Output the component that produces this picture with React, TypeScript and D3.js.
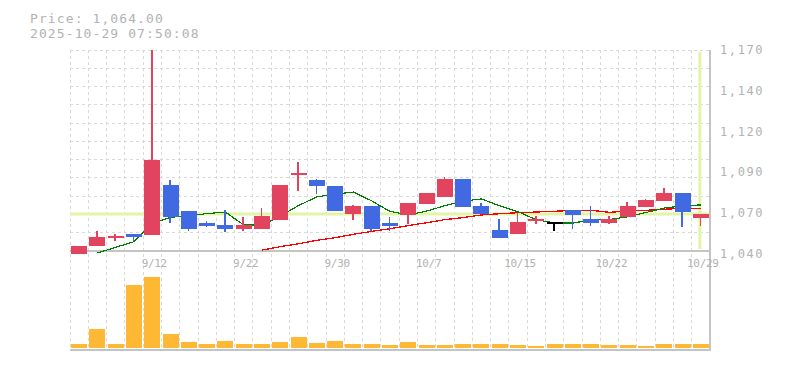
import React, { useEffect, useRef } from "react";
import * as d3 from "d3";

// trading days shown on the chart
const dates = [
  "9/8", "9/9", "9/10", "9/11", "9/12", "9/16", "9/17", "9/18", "9/19", "9/22",
  "9/24", "9/25", "9/26", "9/29", "9/30", "10/1", "10/2", "10/3", "10/6", "10/7",
  "10/8", "10/9", "10/10", "10/14", "10/15", "10/16", "10/17", "10/20", "10/21", "10/22",
  "10/23", "10/24", "10/27", "10/28", "10/29",
];

// OHLC
const opens = [
  1038.2, 1043.4, 1048.4, 1051.0, 1050.3, 1082.9, 1065.9, 1058.3, 1056.8, 1054.2,
  1054.2, 1060.0, 1089.4, 1085.9, 1082.0, 1064.1, 1069.1, 1058.3, 1063.5, 1070.6,
  1075.1, 1086.6, 1069.1, 1053.6, 1051.2, 1059.6, 1058.8, 1066.3, 1060.7, 1058.3,
  1062.2, 1068.7, 1072.5, 1077.7, 1061.4,
];
const highs = [
  1043.2, 1052.9, 1051.0, 1051.0, 1170.0, 1085.9, 1065.9, 1059.2, 1066.5, 1062.2,
  1067.8, 1082.9, 1097.6, 1086.8, 1082.0, 1069.8, 1069.1, 1062.2, 1071.2, 1077.7,
  1088.1, 1086.6, 1071.2, 1060.7, 1064.4, 1062.6, 1058.8, 1066.3, 1069.1, 1062.6,
  1071.7, 1073.8, 1081.0, 1077.7, 1064.0,
];
const lows = [
  1038.2, 1043.4, 1046.5, 1046.7, 1050.3, 1058.3, 1053.1, 1055.7, 1052.3, 1053.1,
  1054.2, 1060.0, 1079.0, 1076.9, 1065.9, 1060.0, 1053.1, 1053.1, 1057.5, 1070.6,
  1075.1, 1068.7, 1064.1, 1048.6, 1051.2, 1057.7, 1053.1, 1054.5, 1056.4, 1057.7,
  1062.2, 1068.5, 1072.5, 1055.7, 1056.4,
];
const closes = [
  1043.2, 1048.9, 1049.7, 1049.1, 1098.9, 1062.2, 1054.2, 1056.4, 1054.2, 1056.8,
  1062.6, 1082.9, 1090.5, 1082.2, 1065.9, 1069.1, 1054.4, 1056.4, 1071.2, 1077.7,
  1086.8, 1068.7, 1064.1, 1048.6, 1058.8, 1060.7, 1058.8, 1063.4, 1058.3, 1060.7,
  1069.1, 1073.0, 1077.7, 1065.4, 1064.0,
];

// volume (thousand shares)
const volumes = [
  40, 190, 40, 630, 710, 140, 60, 40, 70, 40,
  40, 60, 110, 50, 70, 40, 40, 30, 60, 30,
  30, 40, 40, 40, 30, 20, 40, 40, 40, 30,
  30, 20, 40, 40, 40,
];

// moving averages (green short, red long)
const maShort = [
  null, 1038.7, 1042.4, 1046.0, 1058.0, 1061.8, 1062.8, 1064.2, 1065.2, 1056.8,
  1056.8, 1062.6, 1069.4, 1075.0, 1076.8, 1078.1, 1072.4, 1065.6, 1063.4, 1065.8,
  1069.3, 1072.2, 1073.7, 1069.2, 1065.4, 1060.2, 1058.2, 1058.1, 1060.0, 1060.4,
  1062.1, 1064.9, 1067.8, 1069.2, 1069.8,
];
const maLong = [
  null, null, null, null, null, null, null, null, null, null,
  1040.6, 1042.8, 1044.7, 1046.9, 1048.6, 1050.8, 1052.7, 1054.4, 1056.4, 1058.3,
  1060.3, 1061.6, 1063.3, 1064.1, 1064.8, 1065.2, 1065.7, 1066.3, 1066.3, 1065.0,
  1065.9, 1066.3, 1067.0, 1067.6, 1067.6,
];

const xTickLabels = ["9/12", "9/22", "9/30", "10/7", "10/15", "10/22", "10/29"];
const yTickValues = [1040, 1066, 1092, 1118, 1144, 1170];
const yTickLabels = ["1,040", "1,070", "1,090", "1,120", "1,140", "1,170"];
const lastPrice = 1064;
const headerLines = ["Price: 1,064.00", "2025-10-29 07:50:08"];

const UP = "#e2435e";
const DOWN = "#4169e1";
const GRID = "#d9d9d9";
const AXIS = "#c4c4c4";
const TEXT = "#b2b2b2";
const MONO = "'DejaVu Sans Mono', 'Liberation Mono', monospace";

function StockChart() {
  const ref = useRef<SVGSVGElement | null>(null);

  useEffect(() => {
    const svg = d3.select(ref.current);
    svg.selectAll("*").remove();

    const left = 70, right = 710;
    const top = 50, bottom = 251;
    const volTop = 268, volBottom = 348;

    const x = d3.scaleBand().domain(dates).range([left, right]).padding(0);
    const y = d3.scaleLinear().domain([1040, 1170]).range([bottom, top]);
    const yVol = d3.scaleLinear().domain([0, 800]).range([volBottom, volTop]);
    const gridY = d3.scaleLinear().domain([0, 11]).range([bottom, top]);
    const bw = x.bandwidth() * 0.875;
    const cx = (d: string) => (x(d) as number) + x.bandwidth() / 2;

    // header
    svg.append("g")
      .selectAll("text")
      .data(headerLines)
      .enter()
      .append("text")
      .attr("x", 30)
      .attr("y", (d, i) => 22.5 + i * 15)
      .attr("fill", TEXT)
      .style("font-family", MONO)
      .style("font-size", "13px")
      .style("letter-spacing", "1.1px")
      .text((d) => d);

    // grid
    const grid = svg.append("g")
      .attr("stroke", GRID)
      .attr("stroke-dasharray", "3,3")
      .attr("shape-rendering", "crispEdges");
    grid.selectAll("line.h")
      .data(d3.range(1, 12))
      .enter()
      .append("line")
      .attr("x1", left)
      .attr("x2", right)
      .attr("y1", (d) => gridY(d))
      .attr("y2", (d) => gridY(d));
    grid.selectAll("line.v")
      .data(dates)
      .enter()
      .append("line")
      .attr("x1", (d) => x(d) as number)
      .attr("x2", (d) => x(d) as number)
      .attr("y1", top)
      .attr("y2", volBottom + 2);

    // current price markers
    svg.append("line")
      .attr("x1", left).attr("x2", right)
      .attr("y1", y(lastPrice)).attr("y2", y(lastPrice))
      .attr("stroke", "#e4f4a6").attr("stroke-width", 3);
    svg.append("line")
      .attr("x1", cx(dates[dates.length - 1]) - 1)
      .attr("x2", cx(dates[dates.length - 1]) - 1)
      .attr("y1", top + 2).attr("y2", bottom - 2)
      .attr("stroke", "#e4f4a6").attr("stroke-width", 3);

    // axes frame
    const frame = svg.append("g").attr("stroke", AXIS).attr("shape-rendering", "crispEdges");
    frame.append("line").attr("x1", left).attr("x2", right).attr("y1", bottom).attr("y2", bottom).attr("stroke-width", 1.5);
    frame.append("line").attr("x1", left).attr("x2", right).attr("y1", volBottom + 2).attr("y2", volBottom + 2).attr("stroke-width", 2);
    frame.append("line").attr("x1", right).attr("x2", right).attr("y1", top).attr("y2", volBottom + 3).attr("stroke-width", 1.5);

    // moving averages
    const line = d3.line<number | null>()
      .defined((d) => d != null)
      .x((d, i) => cx(dates[i]))
      .y((d) => y(d as number));
    svg.append("path")
      .attr("d", line(maLong))
      .attr("fill", "none")
      .attr("stroke", "#ff0000")
      .attr("stroke-width", 1.3)
      .attr("shape-rendering", "crispEdges");
    svg.append("path")
      .attr("d", line(maShort))
      .attr("fill", "none")
      .attr("stroke", "#008000")
      .attr("stroke-width", 1.2)
      .attr("shape-rendering", "crispEdges");

    // candles
    const candles = svg.append("g")
      .attr("shape-rendering", "crispEdges")
      .selectAll("g")
      .data(dates)
      .enter()
      .append("g");
    const colorOf = (i: number) =>
      closes[i] > opens[i] ? UP : closes[i] < opens[i] ? DOWN : "#000";
    candles.append("line")
      .attr("x1", (d) => cx(d) - 0.5)
      .attr("x2", (d) => cx(d) - 0.5)
      .attr("y1", (d, i) => y(highs[i]))
      .attr("y2", (d, i) => y(lows[i]))
      .attr("stroke", (d, i) => colorOf(i))
      .attr("stroke-width", 1.5);
    candles.append("rect")
      .attr("x", (d) => cx(d) - bw / 2)
      .attr("width", bw)
      .attr("y", (d, i) => y(Math.max(opens[i], closes[i])))
      .attr("height", (d, i) => Math.max(2, Math.abs(y(opens[i]) - y(closes[i]))))
      .attr("fill", (d, i) => colorOf(i));

    // volume
    svg.append("g")
      .attr("shape-rendering", "crispEdges")
      .selectAll("rect")
      .data(volumes)
      .enter()
      .append("rect")
      .attr("x", (d, i) => cx(dates[i]) - bw / 2)
      .attr("width", bw)
      .attr("y", (d) => yVol(d))
      .attr("height", (d) => volBottom - yVol(d))
      .attr("fill", "#ffb833");

    // x labels
    svg.append("g")
      .selectAll("text")
      .data(xTickLabels)
      .enter()
      .append("text")
      .attr("x", (d) => cx(d) + 2)
      .attr("y", 267)
      .attr("text-anchor", "middle")
      .attr("fill", TEXT)
      .style("font-family", MONO)
      .style("font-size", "11px")
      .style("letter-spacing", "-0.3px")
      .text((d) => d);

    // y labels
    svg.append("g")
      .selectAll("text")
      .data(yTickValues)
      .enter()
      .append("text")
      .attr("x", 720)
      .attr("y", (d) => y(d) + 7 - (d - 1040) / 130 * 3)
      .attr("fill", TEXT)
      .style("font-family", MONO)
      .style("font-size", "12px")
      .style("letter-spacing", "1.6px")
      .text((d, i) => yTickLabels[i]);
  }, []);

  return (
    <svg
      ref={ref}
      width={785}
      height={370}
      style={{ position: "absolute", left: 0, top: 0, background: "#fff" }}
    />
  );
}

export default function App() {
  return <StockChart />;
}
